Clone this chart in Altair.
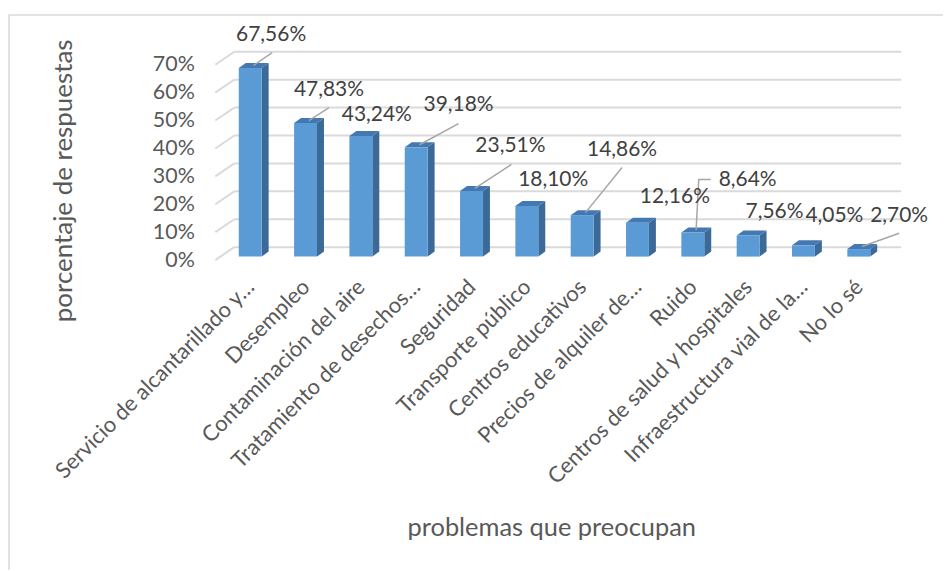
import json
import altair as alt
import pandas as pd

# ---- data ----
categories = [
    "Servicio de alcantarillado y…", "Desempleo", "Contaminación del aire",
    "Tratamiento de desechos…", "Seguridad", "Transporte público",
    "Centros educativos", "Precios de alquiler de…", "Ruido",
    "Centros de salud y hospitales", "Infraestructura vial de la…", "No lo sé",
]
values = [67.56, 47.83, 43.24, 39.18, 23.51, 18.10, 14.86, 12.16, 8.64, 7.56, 4.05, 2.70]
value_labels = ["67,56%", "47,83%", "43,24%", "39,18%", "23,51%", "18,10%",
                "14,86%", "12,16%", "8,64%", "7,56%", "4,05%", "2,70%"]
y_ticks = [0, 10, 20, 30, 40, 50, 60, 70]

# ---- layout (data units) ----
label_x = [0.378, 1.423, 2.288, 3.766, 4.703, 5.477, 6.721, 7.676, 8.991, 9.477, 10.559, 11.730]
label_y = [80.7, 61.1, 52.1, 55.4, 40.7, 28.6, 39.3, 22.5, 28.6, 17.1, 15.7, 15.7]
leader_ends = {
    0: [(0.396, 74.3)],
    1: [(1.423, 54.6)],
    3: [(3.766, 48.9)],
    4: [(4.721, 34.3)],
    6: [(6.721, 33.2)],
    8: [(8.108, 28.9), (8.324, 28.9)],
    11: [(11.730, 9.6)],
}
HALF = 0.207      # half front width
DX = 0.126        # depth in x
DY = 1.79         # depth in y
BASE = 1.25       # bar base
BACK = 4.64       # back wall offset
WALL_L, WALL_B, WALL_R = -0.631, -0.288, 11.766

FRONT, SIDE, TOP = "#5B9BD5", "#3B6A99", "#4478B2"
GRID = "#DADADA"
TXT = "#595959"
FONT = "Lato"

# ---- tables ----
bars = pd.DataFrame({
    "x": [i - HALF for i in range(len(values))],
    "x2": [i + HALF for i in range(len(values))],
    "y": [BASE] * len(values),
    "y2": [v + BASE for v in values],
})

side_rows, top_rows = [], []
for i, v in enumerate(values):
    t = v + BASE
    side_rows += [
        {"id": i, "x": i + HALF, "y": BASE, "y2": t},
        {"id": i, "x": i + HALF + DX, "y": BASE + DY, "y2": t + DY},
    ]
    top_rows += [
        {"id": i, "x": i - HALF, "y": t, "y2": t},
        {"id": i, "x": i - HALF + DX, "y": t, "y2": t + DY},
        {"id": i, "x": i + HALF, "y": t, "y2": t + DY},
        {"id": i, "x": i + HALF + DX, "y": t + DY, "y2": t + DY},
    ]
side = pd.DataFrame(side_rows)
top = pd.DataFrame(top_rows)

grid_back = pd.DataFrame({"x": [WALL_B] * len(y_ticks), "x2": [WALL_R] * len(y_ticks),
                          "y": [t + BACK for t in y_ticks]})
grid_slant = pd.DataFrame({"x": [WALL_L] * len(y_ticks), "x2": [WALL_B] * len(y_ticks),
                           "y": y_ticks, "y2": [t + BACK for t in y_ticks]})

lab = pd.DataFrame({"x": label_x, "y": label_y, "t": value_labels})

lead_rows = []
for i, ends in leader_ends.items():
    pts = [(i + 0.06, values[i] + BASE + 0.9)] + ends
    for k, (px, py) in enumerate(pts):
        lead_rows.append({"id": i, "k": k, "x": px, "y": py})
leaders = pd.DataFrame(lead_rows)

# ---- scales / axes ----
xs = alt.Scale(domain=[-0.91892, 12.05405], nice=False, zero=False)
ys = alt.Scale(domain=[-5.3571, 82.1429], nice=False, zero=False)

cat_expr = json.dumps(categories, ensure_ascii=False) + "[round(datum.value)]"
xaxis = alt.Axis(values=list(range(len(categories))), labelExpr=cat_expr,
                 labelAngle=-45, labelAlign="right", labelBaseline="middle",
                 labelFontSize=22, labelColor=TXT, labelFont=FONT, labelPadding=8,
                 labelOverlap=False, labelBound=False, labelFlush=False, labelLimit=0,
                 domain=False, ticks=False, grid=False,
                 title="problemas que preocupan", titleFontSize=25.5, titleFont=FONT,
                 titleFontWeight="normal", titleColor=TXT,
                 titleX=353, titleY=253, titleAnchor="middle", titleAlign="center",
                 titleBaseline="middle")
yaxis = alt.Axis(values=y_ticks, labelExpr="datum.value + '%'",
                 labelFontSize=21.5, labelColor=TXT, labelFont=FONT, labelPadding=5,
                 domain=False, ticks=False, grid=False,
                 title="porcentaje de respuestas", titleFontSize=26, titleFont=FONT,
                 titleFontWeight="normal", titleColor=TXT,
                 titleX=-136, titleY=150, titleAngle=-90, titleAlign="center",
                 titleBaseline="middle")


def X(f="x"):
    return alt.X(f, type="quantitative", scale=xs, axis=xaxis)


def Y(f="y"):
    return alt.Y(f, type="quantitative", scale=ys, axis=yaxis, stack=None)


border = alt.Chart(alt.Data(values=[{}])).mark_rect(
    fill=None, stroke="#D9D9D9", strokeWidth=1.5
).encode(x=alt.value(-191), x2=alt.value(760), y=alt.value(-16), y2=alt.value(560))

g1 = alt.Chart(grid_back).mark_rule(color=GRID, strokeWidth=2).encode(
    x=X(), x2="x2", y=Y())
g2 = alt.Chart(grid_slant).mark_rule(color=GRID, strokeWidth=2).encode(
    x=X(), x2="x2", y=Y(), y2="y2")

side_l = alt.Chart(side).mark_area(color=SIDE, opacity=1).encode(
    x=X(), y=Y(), y2="y2", detail="id:N")
top_l = alt.Chart(top).mark_area(color=TOP, opacity=1).encode(
    x=X(), y=Y(), y2="y2", detail="id:N")
front = alt.Chart(bars).mark_rect(color=FRONT).encode(
    x=X(), x2="x2", y=Y(), y2="y2")

lead_l = alt.Chart(leaders).mark_line(color="#A6A6A6", strokeWidth=1.5).encode(
    x=X(), y=Y(), detail="id:N", order="k:Q")

text_l = alt.Chart(lab).mark_text(fontSize=21, font=FONT, color="#404040",
                                  align="center", baseline="middle").encode(
    x=X(), y=Y(), text="t:N")

chart = alt.layer(border, g1, g2, side_l, top_l, front, lead_l, text_l).properties(
    width=720, height=245,
    background="white",
    autosize=alt.AutoSizeParams(type="none"),
    padding={"left": 192, "top": 22, "right": 26, "bottom": 295},
).configure_view(strokeWidth=0, stroke="transparent")

chart.save("out.html", embed_options={"renderer": "svg", "actions": False})
